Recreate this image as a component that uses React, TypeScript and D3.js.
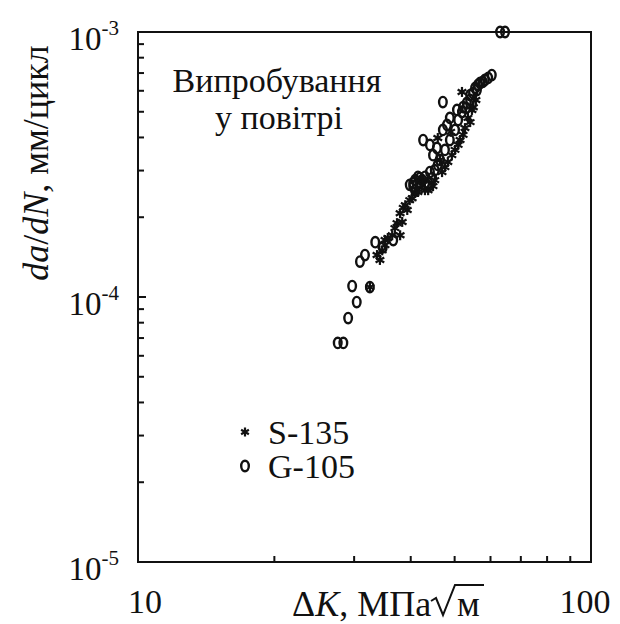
import React, { useLayoutEffect, useRef, useState } from "react";
import * as d3 from "d3";

// ΔK (MPa√m), da/dN (mm/cycle)
const s135K = [51.9, 54.1, 52.7, 51.4, 50.1, 47.6, 45.9, 46.4, 44.8, 43.0, 40.9, 39.8, 39.3, 38.5, 37.9, 37.3, 36.4, 37.9, 35.1, 34.2, 32.5, 42.6, 55.0, 49.0,
  38.9, 40.3, 41.5, 42.4, 43.7, 45.2, 46.9, 48.3, 49.3, 50.9, 52.2, 53.5, 54.6, 55.7, 38.3, 36.9, 35.6, 34.6, 33.7, 35.1];
const s135R = [5.94e-4, 4.57e-4, 4.34e-4, 3.91e-4, 3.59e-4, 3.09e-4, 3.98e-4, 3.29e-4, 2.62e-4, 2.53e-4, 2.47e-4, 2.32e-4, 2.13e-4, 2.17e-4, 2.07e-4, 1.90e-4, 1.71e-4, 1.71e-4, 1.57e-4, 1.38e-4, 1.09e-4, 2.76e-4, 5.2e-4, 4.2e-4,
  2.22e-4, 2.36e-4, 2.49e-4, 2.65e-4, 2.53e-4, 2.76e-4, 2.96e-4, 3.23e-4, 3.43e-4, 3.75e-4, 4.09e-4, 4.74e-4, 5.08e-4, 5.54e-4, 1.92e-4, 1.82e-4, 1.67e-4, 1.50e-4, 1.44e-4, 1.64e-4];

const g105K = [64.6, 63.0, 60.4, 58.3, 56.9, 56.0, 54.9, 54.1, 53.2, 52.2, 50.6, 47.1, 48.8, 48.1, 47.1, 45.7, 44.1, 42.6, 44.8, 43.7, 41.9, 40.5, 41.5, 43.0, 44.1, 40.9, 36.6, 34.7, 33.4, 31.7, 30.9, 29.7, 30.4, 29.1, 27.6, 28.4, 32.5,
  39.8, 40.9, 41.9, 43.0, 44.6, 45.2, 45.9, 46.4, 47.6, 48.8, 50.1, 50.9, 51.9, 53.0, 54.1, 55.5, 56.3, 57.7, 59.3, 42.4, 43.7, 40.5];
const g105R = [1.0e-3, 1.0e-3, 6.88e-4, 6.59e-4, 6.42e-4, 6.04e-4, 5.88e-4, 5.54e-4, 5.40e-4, 5.21e-4, 5.08e-4, 5.44e-4, 4.74e-4, 4.46e-4, 4.27e-4, 3.65e-4, 3.75e-4, 3.91e-4, 3.43e-4, 2.69e-4, 2.69e-4, 2.69e-4, 2.84e-4, 2.84e-4, 2.96e-4, 2.53e-4, 1.64e-4, 1.54e-4, 1.61e-4, 1.44e-4, 1.36e-4, 1.10e-4, 9.57e-5, 8.33e-5, 6.71e-5, 6.71e-5, 1.09e-4,
  2.65e-4, 2.76e-4, 2.81e-4, 2.65e-4, 2.81e-4, 3.01e-4, 3.15e-4, 3.29e-4, 3.59e-4, 3.91e-4, 4.27e-4, 4.65e-4, 4.99e-4, 5.17e-4, 5.78e-4, 6.15e-4, 6.31e-4, 6.48e-4, 6.71e-4, 2.76e-4, 2.62e-4, 2.62e-4];

const xDomain = [10, 100];
const yDomain = [1e-5, 1e-3];
const yMajor = [1e-3, 1e-4, 1e-5];
const yExp = ["-3", "-4", "-5"];
const xLabels = [10, 100];
const legendNames = ["S-135", "G-105"];
const noteLines = ["Випробування", "у повітрі"];
const yTitleParts = ["da", "/", "dN", ", мм/цикл"];
const yTitleItalic = [true, false, true, false];
const xTitleParts = ["Δ", "K", ", МПа"];
const xTitleItalic = [false, true, false];

const L = 138, R = 591, T = 32, B = 562;
const FONT = "Liberation Serif";

function Star({ x, y, r = 5 }: { x: number; y: number; r?: number }) {
  const lines = [90, 30, 150].map((a) => {
    const rad = (a * Math.PI) / 180;
    return [x - r * Math.cos(rad), y - r * Math.sin(rad), x + r * Math.cos(rad), y + r * Math.sin(rad)];
  });
  return (
    <g stroke="#111" strokeWidth={2.2}>
      {lines.map((l, i) => (
        <line key={i} x1={l[0]} y1={l[1]} x2={l[2]} y2={l[3]} />
      ))}
    </g>
  );
}

function Ring({ x, y }: { x: number; y: number }) {
  return <ellipse cx={x} cy={y} rx={3.8} ry={5.2} fill="none" stroke="#111" strokeWidth={2.4} />;
}

export default function App() {
  const x = d3.scaleLog().domain(xDomain).range([L, R]);
  const y = d3.scaleLog().domain(yDomain).range([B, T]);
  const xMinor = x.ticks().filter((v) => v > 10 && v < 100);
  const yMinor = y.ticks().filter((v) => !yMajor.some((m) => Math.abs(m - v) / m < 1e-6));
  const txt = { fontFamily: FONT } as React.CSSProperties;

  const yRefs = useRef<(SVGTextElement | null)[]>([]);
  const xRefs = useRef<(SVGTextElement | null)[]>([]);
  const [yW, setYW] = useState<number[]>([36, 10, 42, 164]);
  const [xW, setXW] = useState<number[]>([23, 24, 93]);
  useLayoutEffect(() => {
    const measure = () => {
      try {
        const a = yRefs.current.map((e, i) => (e ? e.getComputedTextLength() : yW[i]));
        const b = xRefs.current.map((e, i) => (e ? e.getComputedTextLength() : xW[i]));
        if (a.every((v) => v > 0)) setYW(a);
        if (b.every((v) => v > 0)) setXW(b);
      } catch (err) {
        /* keep estimates */
      }
    };
    measure();
    try {
      const f = (document as any).fonts;
      if (f && f.ready) f.ready.then(measure);
    } catch (err) {
      /* ignore */
    }
  }, []);

  const yTotal = yW.reduce((s, v) => s + v, 0);
  const yOff: number[] = [];
  yW.reduce((s, v, i) => { yOff[i] = s; return s + v; }, 0);
  const xOff: number[] = [];
  xW.reduce((s, v, i) => { xOff[i] = s; return s + v; }, 0);

  return (
    <svg width={620} height={624} style={{ position: "absolute", left: 0, top: 0, background: "#fff", fontFamily: FONT }}>
      {yMajor.map((v, i) => (
        <text key={"yl" + i} x={L - 19} y={y(v) + 18} fontSize={33} textAnchor="end" fill="#111" style={txt}>
          10
          <tspan fontSize={21} dy={-15}>{yExp[i]}</tspan>
        </text>
      ))}
      {xLabels.map((v, i) => (
        <text key={"xl" + i} x={x(v) + (i === 0 ? 7 : -6)} y={613} fontSize={34} textAnchor="middle" fill="#111" style={txt}>
          {v}
        </text>
      ))}
      <text x={277} y={92} fontSize={34} textAnchor="middle" fill="#111" style={txt}>{noteLines[0]}</text>
      <text x={279} y={129} fontSize={34} textAnchor="middle" fill="#111" style={txt}>{noteLines[1]}</text>
      <text x={268} y={444} fontSize={34} fill="#111" style={txt}>{legendNames[0]}</text>
      <text x={268} y={478} fontSize={34} fill="#111" style={txt}>{legendNames[1]}</text>
      <g transform="translate(48,163) rotate(-90)">
        {yTitleParts.map((p, i) => (
          <text
            key={"yt" + i}
            ref={(el) => { yRefs.current[i] = el; }}
            x={yOff[i] - yTotal / 2}
            y={0}
            fontSize={36}
            fill="#111"
            style={{ fontFamily: FONT, fontStyle: yTitleItalic[i] ? "italic" : "normal" }}
          >
            {p}
          </text>
        ))}
      </g>
      {xTitleParts.map((p, i) => (
        <text
          key={"xt" + i}
          ref={(el) => { xRefs.current[i] = el; }}
          x={292 + xOff[i]}
          y={616}
          fontSize={36}
          fill="#111"
          style={{ fontFamily: FONT, fontStyle: xTitleItalic[i] ? "italic" : "normal" }}
        >
          {p}
        </text>
      ))}
      <path d="M431,601 L436,598 L443,615 L455,585 L484,585" fill="none" stroke="#111" strokeWidth={2} />
      <text x={457} y={616} fontSize={36} fill="#111" style={txt}>м</text>

      <rect x={L} y={T} width={R - L} height={B - T} fill="none" stroke="#111" strokeWidth={2} />
      {yMajor.map((v, i) => (
        <line key={"ym" + i} x1={L} x2={L + 8} y1={y(v)} y2={y(v)} stroke="#111" strokeWidth={2} />
      ))}
      {yMinor.map((v, i) => (
        <line key={"yn" + i} x1={L} x2={L + 6} y1={y(v)} y2={y(v)} stroke="#111" strokeWidth={2} />
      ))}
      {xMinor.map((v, i) => (
        <line key={"xn" + i} x1={x(v)} x2={x(v)} y1={B} y2={B - 6} stroke="#111" strokeWidth={2} />
      ))}
      <Star x={245} y={432} r={4.5} />
      <Ring x={245} y={466} />
      {g105K.map((k, i) => (
        <Ring key={"g" + i} x={x(k)} y={y(g105R[i])} />
      ))}
      {s135K.map((k, i) => (
        <Star key={"s" + i} x={x(k)} y={y(s135R[i])} />
      ))}
    </svg>
  );
}
